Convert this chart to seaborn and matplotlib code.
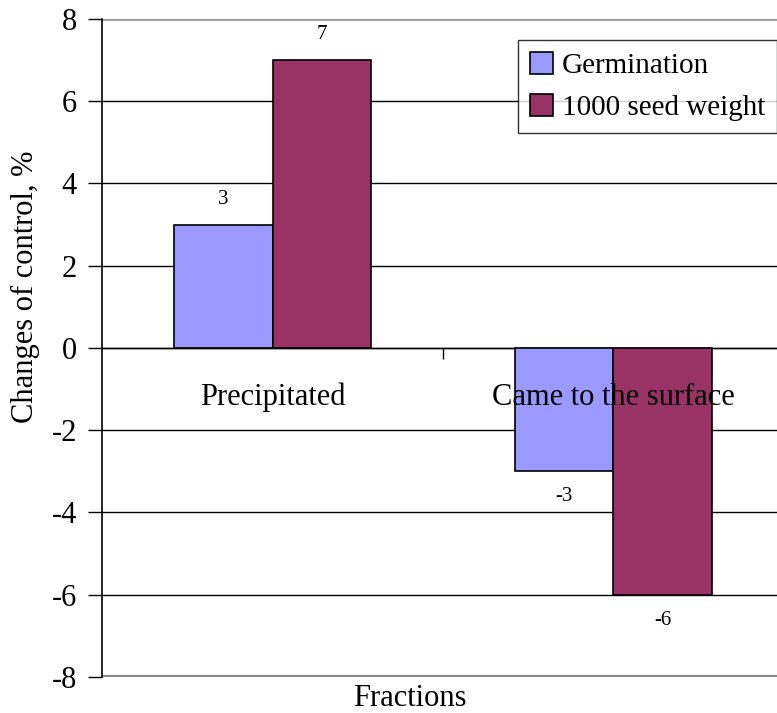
import pandas as pd
import matplotlib
matplotlib.use("Agg")
import matplotlib.pyplot as plt
import seaborn as sns

# data
categories = ["Precipitated", "Came to the surface"]
series = ["Germination", "1000 seed weight"]
germination = [3, -3]
seed_weight = [7, -6]
colors = ["#9999FF", "#993366"]

df = pd.DataFrame({
    "fraction": categories * 2,
    "series": [series[0]] * 2 + [series[1]] * 2,
    "value": germination + seed_weight,
})

sns.set_style("white")
plt.rcParams["font.family"] = ["Liberation Serif", "DejaVu Serif"]
plt.rcParams["axes.unicode_minus"] = False
plt.rcParams["text.color"] = "black"
plt.rcParams["ytick.color"] = "black"
plt.rcParams["xtick.color"] = "black"

fig = plt.figure(figsize=(7.77, 7.13), dpi=100)
ax = fig.add_axes([0.1313, 0.0505, 0.8777, 0.9229])

sns.barplot(data=df, x="fraction", y="value", hue="series", order=categories,
            hue_order=series, palette=colors, saturation=1, width=0.58,
            errorbar=None, edgecolor="black", linewidth=1.2, ax=ax, zorder=3)

ax.set_ylim(-8, 8)
ax.set_xlim(-0.5, 1.5)
ax.set_yticks(range(-8, 9, 2))
ax.tick_params(axis="y", labelsize=22, length=10, width=1, direction="out",
               left=True, pad=8, labelcolor="black")
for y in range(-6, 8, 2):
    ax.axhline(y, color="black", lw=1, zorder=1)
ax.axhline(8, color="#999999", lw=2, zorder=1)
ax.axhline(-8, color="#888888", lw=3, zorder=1)

# bottom spine on the zero line, with one tick between the groups
for s in ["top", "right"]:
    ax.spines[s].set_visible(False)
ax.spines["left"].set_color("black")
ax.spines["left"].set_linewidth(1.2)
ax.spines["bottom"].set_position(("data", 0))
ax.spines["bottom"].set_color("black")
ax.spines["bottom"].set_linewidth(1)
ax.set_xticks([0.5])
ax.set_xticklabels([""])
ax.tick_params(axis="x", length=8, width=1, direction="out", bottom=True)

# category names drawn over the bars
for i, name in enumerate(categories):
    ax.text(i, -1.2, name, ha="center", va="center", fontsize=22, zorder=5)

# value labels
for patch, val in zip(ax.patches, germination + seed_weight):
    x = patch.get_x() + patch.get_width() / 2
    off = 0.62 if val > 0 else -0.62
    ax.text(x, val + off, f"{val}", ha="center", va="center", fontsize=15, zorder=5)

ax.set_xlabel("")
ax.set_ylabel("")
fig.text(0.527, 0.021, "Fractions", ha="center", va="center", fontsize=22)
fig.text(0.033, 0.598, "Changes of control, %", ha="center", va="center",
         rotation=90, fontsize=22)

leg = ax.legend(loc="upper left", bbox_to_anchor=(0.61, 0.968), fontsize=21,
                frameon=True, fancybox=False, edgecolor="black",
                handlelength=0.8, handleheight=0.8, handletextpad=0.3,
                borderpad=0.4, labelspacing=0.5, borderaxespad=0)
leg.get_frame().set_linewidth(1)

fig.savefig("out.png", dpi=100)
